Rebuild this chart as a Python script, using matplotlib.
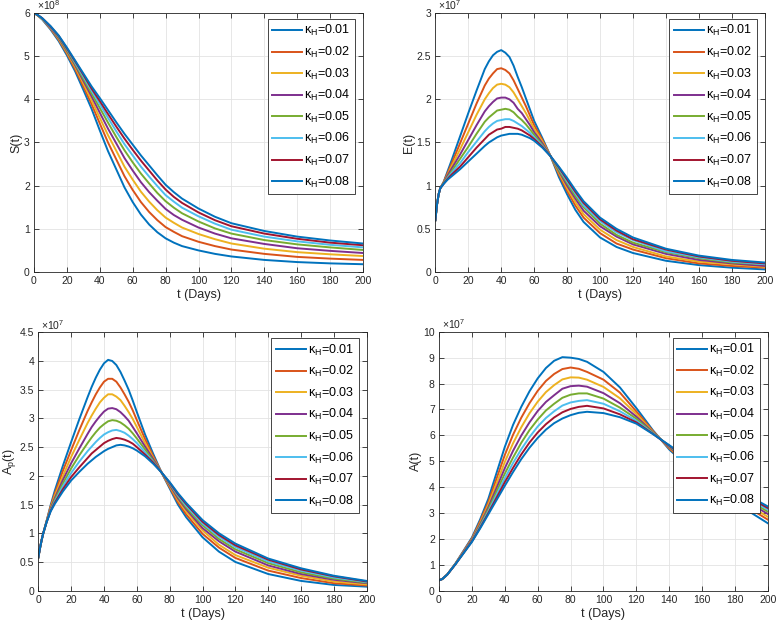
import matplotlib
matplotlib.use('Agg')
import numpy as np
import matplotlib.pyplot as plt
from matplotlib.ticker import FuncFormatter, MultipleLocator

plt.rcParams['font.family'] = ['Liberation Sans', 'DejaVu Sans']
plt.rcParams['mathtext.fontset'] = 'custom'
plt.rcParams['mathtext.rm'] = 'Liberation Sans'
plt.rcParams['mathtext.it'] = 'Liberation Sans:italic'
plt.rcParams['mathtext.bf'] = 'Liberation Sans:bold'

# time grids (days)
days_s = [0, 2, 5, 10, 15, 20, 25, 30, 35, 40, 45, 50, 55, 60, 65, 70, 75,
          80, 85, 90, 100, 110, 120, 140, 160, 180, 200]
days_e = [0, 1, 2, 3, 5, 7.5, 10, 15, 20, 25, 30, 32.5, 35, 37.5, 40, 42.5, 45,
          47.5, 50, 52.5, 55, 57.5, 60, 65, 70, 75, 80, 85, 90, 100, 110, 120,
          140, 160, 180, 200]
days_a = [0, 2, 5, 10, 15, 20, 25, 30, 35, 40, 45, 50, 55, 60, 65, 70, 75,
          80, 85, 90, 100, 110, 120, 130, 140, 160, 180, 200]

kappa = ['0.01', '0.02', '0.03', '0.04', '0.05', '0.06', '0.07', '0.08']

# S(t), x1e8
s1 = [6.00, 5.95, 5.85, 5.62, 5.35, 5.02, 4.65, 4.22, 3.78, 3.28, 2.80, 2.38, 1.96, 1.62, 1.33, 1.10, 0.92, 0.78, 0.68, 0.60, 0.50, 0.42, 0.36, 0.28, 0.23, 0.20, 0.18]
s2 = [6.00, 5.95, 5.86, 5.64, 5.38, 5.06, 4.70, 4.30, 3.89, 3.44, 3.00, 2.61, 2.22, 1.90, 1.62, 1.39, 1.20, 1.04, 0.93, 0.83, 0.70, 0.60, 0.52, 0.42, 0.35, 0.31, 0.28]
s3 = [6.00, 5.95, 5.86, 5.65, 5.40, 5.09, 4.75, 4.37, 3.98, 3.57, 3.17, 2.81, 2.44, 2.14, 1.86, 1.63, 1.43, 1.26, 1.14, 1.03, 0.88, 0.76, 0.66, 0.54, 0.46, 0.41, 0.37]
s4 = [6.00, 5.96, 5.87, 5.66, 5.42, 5.12, 4.79, 4.43, 4.07, 3.69, 3.32, 2.98, 2.64, 2.35, 2.08, 1.85, 1.65, 1.46, 1.32, 1.21, 1.03, 0.89, 0.78, 0.65, 0.55, 0.49, 0.44]
s5 = [6.00, 5.96, 5.87, 5.68, 5.44, 5.14, 4.82, 4.48, 4.14, 3.80, 3.46, 3.13, 2.82, 2.54, 2.28, 2.05, 1.83, 1.64, 1.49, 1.36, 1.17, 1.01, 0.89, 0.74, 0.64, 0.57, 0.51]
s6 = [6.00, 5.96, 5.87, 5.68, 5.46, 5.17, 4.85, 4.53, 4.20, 3.89, 3.57, 3.26, 2.96, 2.70, 2.44, 2.21, 1.99, 1.78, 1.63, 1.49, 1.29, 1.12, 0.98, 0.82, 0.71, 0.63, 0.57]
s7 = [6.00, 5.96, 5.88, 5.69, 5.47, 5.18, 4.88, 4.57, 4.25, 3.96, 3.66, 3.37, 3.09, 2.83, 2.58, 2.35, 2.12, 1.91, 1.74, 1.60, 1.38, 1.20, 1.06, 0.89, 0.77, 0.68, 0.62]
s8 = [6.00, 5.96, 5.88, 5.70, 5.48, 5.20, 4.90, 4.60, 4.30, 4.03, 3.75, 3.47, 3.20, 2.95, 2.70, 2.47, 2.24, 2.02, 1.85, 1.70, 1.47, 1.28, 1.13, 0.95, 0.82, 0.73, 0.66]

# E(t), x1e7
e1 = [0.60, 0.78, 0.90, 0.97, 1.04, 1.17, 1.30, 1.57, 1.84, 2.10, 2.35, 2.44, 2.51, 2.55, 2.57, 2.54, 2.49, 2.39, 2.26, 2.14, 2.01, 1.88, 1.75, 1.55, 1.34, 1.10, 0.90, 0.72, 0.58, 0.40, 0.29, 0.22, 0.13, 0.08, 0.05, 0.03]
e2 = [0.60, 0.78, 0.90, 0.97, 1.04, 1.15, 1.26, 1.49, 1.72, 1.95, 2.16, 2.24, 2.30, 2.35, 2.36, 2.34, 2.30, 2.22, 2.12, 2.02, 1.92, 1.81, 1.70, 1.53, 1.34, 1.13, 0.94, 0.77, 0.63, 0.45, 0.33, 0.26, 0.16, 0.10, 0.07, 0.05]
e3 = [0.60, 0.78, 0.90, 0.97, 1.03, 1.13, 1.23, 1.42, 1.62, 1.82, 2.00, 2.07, 2.13, 2.17, 2.18, 2.17, 2.14, 2.08, 2.00, 1.92, 1.84, 1.75, 1.66, 1.51, 1.34, 1.15, 0.97, 0.81, 0.67, 0.49, 0.37, 0.29, 0.18, 0.12, 0.09, 0.06]
e4 = [0.60, 0.78, 0.90, 0.97, 1.03, 1.12, 1.20, 1.36, 1.53, 1.70, 1.86, 1.92, 1.97, 2.01, 2.02, 2.02, 2.00, 1.96, 1.89, 1.84, 1.77, 1.70, 1.62, 1.49, 1.34, 1.17, 1.00, 0.85, 0.71, 0.53, 0.41, 0.32, 0.21, 0.14, 0.10, 0.07]
e5 = [0.60, 0.78, 0.90, 0.97, 1.03, 1.10, 1.17, 1.31, 1.45, 1.60, 1.74, 1.79, 1.83, 1.87, 1.88, 1.89, 1.88, 1.85, 1.80, 1.76, 1.71, 1.65, 1.59, 1.47, 1.34, 1.18, 1.03, 0.88, 0.75, 0.56, 0.43, 0.34, 0.23, 0.16, 0.11, 0.09]
e6 = [0.60, 0.78, 0.90, 0.97, 1.02, 1.09, 1.15, 1.26, 1.39, 1.51, 1.63, 1.68, 1.72, 1.75, 1.76, 1.77, 1.77, 1.75, 1.72, 1.69, 1.65, 1.61, 1.56, 1.46, 1.34, 1.20, 1.05, 0.91, 0.77, 0.59, 0.46, 0.37, 0.24, 0.17, 0.12, 0.09]
e7 = [0.60, 0.78, 0.90, 0.97, 1.02, 1.08, 1.13, 1.22, 1.33, 1.44, 1.54, 1.59, 1.62, 1.65, 1.66, 1.68, 1.68, 1.67, 1.66, 1.64, 1.61, 1.58, 1.54, 1.45, 1.34, 1.21, 1.07, 0.93, 0.80, 0.61, 0.48, 0.38, 0.26, 0.18, 0.13, 0.10]
e8 = [0.60, 0.78, 0.90, 0.97, 1.02, 1.07, 1.11, 1.19, 1.28, 1.37, 1.46, 1.50, 1.53, 1.56, 1.58, 1.59, 1.60, 1.60, 1.60, 1.59, 1.57, 1.55, 1.52, 1.44, 1.34, 1.22, 1.09, 0.95, 0.82, 0.63, 0.50, 0.40, 0.27, 0.19, 0.14, 0.11]

# Ap(t), x1e7
p1 = [0.58, 0.74, 0.88, 1.00, 1.21, 1.49, 1.74, 2.18, 2.59, 2.99, 3.37, 3.55, 3.71, 3.85, 3.96, 4.02, 4.00, 3.93, 3.81, 3.66, 3.50, 3.31, 3.11, 2.72, 2.38, 2.06, 1.78, 1.50, 1.28, 0.93, 0.68, 0.50, 0.29, 0.17, 0.10, 0.07]
p2 = [0.58, 0.74, 0.88, 1.00, 1.21, 1.47, 1.69, 2.09, 2.45, 2.80, 3.13, 3.28, 3.42, 3.54, 3.64, 3.69, 3.69, 3.64, 3.54, 3.42, 3.29, 3.14, 2.97, 2.64, 2.34, 2.06, 1.80, 1.54, 1.33, 0.99, 0.75, 0.57, 0.35, 0.22, 0.13, 0.09]
p3 = [0.58, 0.74, 0.88, 1.00, 1.20, 1.45, 1.65, 2.00, 2.33, 2.63, 2.92, 3.05, 3.17, 3.28, 3.36, 3.42, 3.42, 3.38, 3.32, 3.22, 3.11, 2.99, 2.85, 2.57, 2.31, 2.06, 1.82, 1.58, 1.38, 1.05, 0.80, 0.62, 0.40, 0.26, 0.16, 0.11]
p4 = [0.58, 0.74, 0.88, 1.00, 1.20, 1.43, 1.61, 1.93, 2.22, 2.48, 2.73, 2.85, 2.95, 3.04, 3.12, 3.17, 3.18, 3.16, 3.11, 3.04, 2.96, 2.85, 2.74, 2.51, 2.29, 2.06, 1.84, 1.61, 1.42, 1.09, 0.86, 0.68, 0.44, 0.29, 0.19, 0.13]
p5 = [0.58, 0.74, 0.88, 1.00, 1.20, 1.41, 1.58, 1.87, 2.13, 2.36, 2.57, 2.67, 2.76, 2.84, 2.90, 2.95, 2.97, 2.96, 2.93, 2.88, 2.82, 2.74, 2.65, 2.46, 2.26, 2.06, 1.86, 1.64, 1.45, 1.14, 0.90, 0.72, 0.48, 0.32, 0.21, 0.14]
p6 = [0.58, 0.74, 0.88, 1.00, 1.19, 1.40, 1.55, 1.82, 2.05, 2.25, 2.43, 2.51, 2.59, 2.66, 2.72, 2.76, 2.79, 2.80, 2.78, 2.75, 2.70, 2.64, 2.57, 2.41, 2.24, 2.06, 1.87, 1.66, 1.48, 1.17, 0.94, 0.76, 0.51, 0.35, 0.23, 0.15]
p7 = [0.58, 0.74, 0.88, 1.00, 1.19, 1.39, 1.53, 1.77, 1.98, 2.15, 2.31, 2.39, 2.45, 2.51, 2.57, 2.61, 2.64, 2.66, 2.65, 2.63, 2.60, 2.56, 2.50, 2.37, 2.23, 2.06, 1.88, 1.68, 1.51, 1.20, 0.97, 0.79, 0.54, 0.37, 0.25, 0.16]
p8 = [0.58, 0.74, 0.88, 1.00, 1.19, 1.38, 1.51, 1.73, 1.92, 2.07, 2.21, 2.27, 2.33, 2.38, 2.43, 2.47, 2.50, 2.53, 2.54, 2.53, 2.51, 2.48, 2.44, 2.34, 2.21, 2.06, 1.89, 1.70, 1.53, 1.23, 1.00, 0.82, 0.56, 0.39, 0.26, 0.17]

# A(t), x1e7
a1 = [0.40, 0.45, 0.62, 1.05, 1.55, 2.05, 2.75, 3.55, 4.55, 5.55, 6.40, 7.10, 7.70, 8.20, 8.60, 8.88, 9.02, 9.00, 8.95, 8.84, 8.45, 7.85, 7.05, 6.20, 5.45, 4.30, 3.40, 2.60]
a2 = [0.40, 0.45, 0.62, 1.04, 1.53, 2.01, 2.68, 3.42, 4.33, 5.24, 6.02, 6.68, 7.24, 7.72, 8.10, 8.37, 8.56, 8.62, 8.57, 8.45, 8.15, 7.65, 6.92, 6.17, 5.49, 4.39, 3.52, 2.74]
a3 = [0.40, 0.45, 0.62, 1.04, 1.51, 1.98, 2.61, 3.32, 4.14, 4.97, 5.69, 6.31, 6.85, 7.30, 7.67, 7.94, 8.16, 8.24, 8.23, 8.15, 7.87, 7.43, 6.82, 6.14, 5.52, 4.46, 3.61, 2.85]
a4 = [0.40, 0.45, 0.62, 1.03, 1.50, 1.96, 2.56, 3.22, 3.97, 4.73, 5.40, 5.99, 6.50, 6.94, 7.29, 7.55, 7.80, 7.90, 7.92, 7.88, 7.63, 7.24, 6.72, 6.12, 5.54, 4.53, 3.70, 2.96]
a5 = [0.40, 0.45, 0.62, 1.03, 1.48, 1.93, 2.51, 3.14, 3.83, 4.52, 5.14, 5.71, 6.20, 6.61, 6.96, 7.22, 7.45, 7.57, 7.62, 7.62, 7.42, 7.07, 6.64, 6.10, 5.57, 4.59, 3.78, 3.05]
a6 = [0.40, 0.45, 0.62, 1.03, 1.47, 1.91, 2.47, 3.06, 3.70, 4.34, 4.93, 5.46, 5.93, 6.34, 6.67, 6.93, 7.15, 7.27, 7.33, 7.36, 7.22, 6.93, 6.56, 6.08, 5.59, 4.64, 3.85, 3.13]
a7 = [0.40, 0.45, 0.62, 1.02, 1.46, 1.90, 2.43, 3.00, 3.59, 4.19, 4.74, 5.26, 5.72, 6.11, 6.43, 6.69, 6.89, 7.02, 7.10, 7.14, 7.04, 6.81, 6.50, 6.06, 5.60, 4.68, 3.90, 3.19]
a8 = [0.40, 0.45, 0.62, 1.02, 1.45, 1.88, 2.40, 2.95, 3.50, 4.05, 4.58, 5.08, 5.52, 5.90, 6.22, 6.47, 6.65, 6.78, 6.87, 6.91, 6.86, 6.70, 6.45, 6.05, 5.62, 4.72, 3.95, 3.25]

# MATLAB default line colours (8th wraps back to the first)
colors = ['#0072BD', '#D95319', '#EDB120', '#7E2F8E', '#77AC30', '#4DBEEE', '#A2142F', '#0072BD']
dark = '#262626'

fig = plt.figure(figsize=(7.76, 6.24), dpi=100)

panels = [
    ([0.0438, 0.5641, 0.4240, 0.4151], days_s, [s1, s2, s3, s4, s5, s6, s7, s8], 'S(t)', 6, 1, '8'),
    ([0.5610, 0.5641, 0.4245, 0.4151], days_e, [e1, e2, e3, e4, e5, e6, e7, e8], 'E(t)', 3, 0.5, '7'),
    ([0.0494, 0.0534, 0.4232, 0.4141], days_e, [p1, p2, p3, p4, p5, p6, p7, p8], r'A$_\mathrm{p}$(t)', 4.5, 0.5, '7'),
    ([0.5657, 0.0534, 0.4240, 0.4149], days_a, [a1, a2, a3, a4, a5, a6, a7, a8], 'A(t)', 10, 1, '7'),
]

for rect, t, curves, ylab, ymax, ystep, expo in panels:
    ax = fig.add_axes(rect)
    for i, c in enumerate(curves):
        ax.plot(t, c, color=colors[i], lw=1.4,
                label='\u03ba$_\\mathrm{H}$=' + kappa[i])
    ax.set_xlim(0, 200)
    ax.set_ylim(0, ymax)
    ax.xaxis.set_major_locator(MultipleLocator(20))
    ax.yaxis.set_major_locator(MultipleLocator(ystep))
    ax.yaxis.set_major_formatter(FuncFormatter(lambda v, p: '%g' % v))
    ax.grid(True, color='#e3e3e3', lw=0.6)
    ax.set_axisbelow(True)
    ax.tick_params(direction='in', top=True, right=True, length=3.5, width=0.6,
                   labelsize=7.5, colors=dark, pad=3)
    for sp in ax.spines.values():
        sp.set_color(dark)
        sp.set_linewidth(0.6)
    ax.set_xlabel('t (Days)', fontsize=9, color=dark, labelpad=2)
    ax.set_ylabel(ylab, fontsize=9, color=dark, labelpad=1)
    ax.text(0.008, 1.002, r'$\times10^{%s}$' % expo, transform=ax.transAxes,
            fontsize=7.5, color=dark, ha='left', va='bottom')
    leg = ax.legend(loc='upper right', bbox_to_anchor=(0.976, 0.977), borderaxespad=0,
                    fontsize=9, frameon=True, fancybox=False, framealpha=1,
                    edgecolor=dark, handlelength=2.4, handletextpad=0.2,
                    labelspacing=0.52, borderpad=0.35)
    leg.get_frame().set_linewidth(0.6)

fig.savefig('out.png', dpi=100)
